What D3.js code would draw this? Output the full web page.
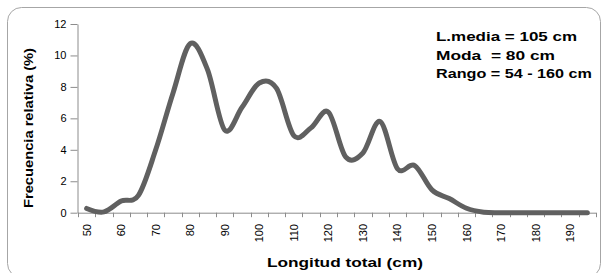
<!DOCTYPE html>
<html>
<head>
<meta charset="utf-8">
<script src="https://cdn.jsdelivr.net/npm/d3@7"></script>
<style>
  body { margin: 0; background: #fff; }
  svg { font-family: "Liberation Sans", Arial, sans-serif; }
  .note { white-space: pre; }
</style>
</head>
<body>
<svg id="chart" width="603" height="273"></svg>
<script>
// longitud total (cm), one class every 5 cm
const categories = [50, 55, 60, 65, 70, 75, 80, 85, 90, 95, 100, 105, 110, 115, 120,
                    125, 130, 135, 140, 145, 150, 155, 160, 165, 170, 175, 180, 185, 190, 195];
const frecuencia = [0.27, 0.05, 0.74, 1.1, 4.0, 7.6, 10.75, 9.1, 5.25, 6.7, 8.25, 7.9, 4.9, 5.4, 6.4,
                    3.55, 3.8, 5.8, 2.8, 3.0, 1.45, 0.9, 0.28, 0.03, 0, 0, 0, 0, 0, 0];
const yTicks = [0, 2, 4, 6, 8, 10, 12];
const notes = ["L.media = 105 cm", "Moda  = 80 cm", "Rango = 54 - 160 cm"];

const svg = d3.select("#chart");
const axisColor = "#8c8c8c";

// outer chart border
svg.append("rect")
  .attr("x", 7.5).attr("y", 7.5)
  .attr("width", 593).attr("height", 270)
  .attr("rx", 14)
  .attr("fill", "none")
  .attr("stroke", "#a6a6a6");

const x = d3.scaleBand().domain(categories).range([78, 596]);
const y = d3.scaleLinear().domain([0, 12]).range([212.7, 24]);

// y axis
const yAxis = svg.append("g")
  .attr("transform", "translate(77.5,0)")
  .call(d3.axisLeft(y).tickValues(yTicks).tickSize(7).tickPadding(4).tickSizeOuter(0));
yAxis.select(".domain").attr("stroke", axisColor);
yAxis.selectAll(".tick line").attr("stroke", axisColor);
yAxis.selectAll("text").attr("font-size", 11).attr("fill", "#000")
  .attr("font-family", "Liberation Sans, Arial, sans-serif");

// x axis: ticks on band edges, labels every other class
const xg = svg.append("g");
xg.append("line")
  .attr("x1", x.range()[0]).attr("x2", x.range()[1])
  .attr("y1", y(0) + 0.5).attr("y2", y(0) + 0.5)
  .attr("stroke", axisColor);
const edges = categories.map(c => x(c)).concat([x.range()[1]]);
xg.selectAll("line.tk").data(edges).join("line")
  .attr("class", "tk")
  .attr("x1", d => Math.round(d) + 0.5).attr("x2", d => Math.round(d) + 0.5)
  .attr("y1", y(0)).attr("y2", y(0) + 4.5)
  .attr("stroke", axisColor);
xg.selectAll("text").data(categories.filter((c, i) => i % 2 === 0)).join("text")
  .attr("transform", d => `translate(${x(d) + x.bandwidth() / 2 + 4},224) rotate(-90)`)
  .attr("text-anchor", "end")
  .attr("font-size", 11)
  .text(d => d);

// smoothed line
const line = d3.line()
  .x((d, i) => x(categories[i]) + x.bandwidth() / 2)
  .y(d => y(d))
  .curve(d3.curveCatmullRom.alpha(0));
svg.append("path")
  .datum(frecuencia)
  .attr("d", line)
  .attr("fill", "none")
  .attr("stroke", "#606060")
  .attr("stroke-width", 5)
  .attr("stroke-linejoin", "round")
  .attr("stroke-linecap", "round");

// axis titles
svg.append("text")
  .attr("transform", "translate(33,128) rotate(-90)")
  .attr("text-anchor", "middle")
  .attr("font-size", 13).attr("font-weight", "bold")
  .attr("textLength", 160).attr("lengthAdjust", "spacingAndGlyphs")
  .text("Frecuencia relativa (%)");

svg.append("text")
  .attr("x", 345).attr("y", 267)
  .attr("text-anchor", "middle")
  .attr("font-size", 13).attr("font-weight", "bold")
  .attr("textLength", 156).attr("lengthAdjust", "spacingAndGlyphs")
  .text("Longitud total (cm)");

// summary notes
const noteWidths = [141, 119, 156];
svg.selectAll("text.note").data(notes).join("text")
  .attr("class", "note")
  .attr("x", 436)
  .attr("y", (d, i) => 41 + i * 18.5)
  .attr("font-size", 13).attr("font-weight", "bold")
  .attr("textLength", (d, i) => noteWidths[i]).attr("lengthAdjust", "spacingAndGlyphs")
  .text(d => d);
</script>
</body>
</html>
